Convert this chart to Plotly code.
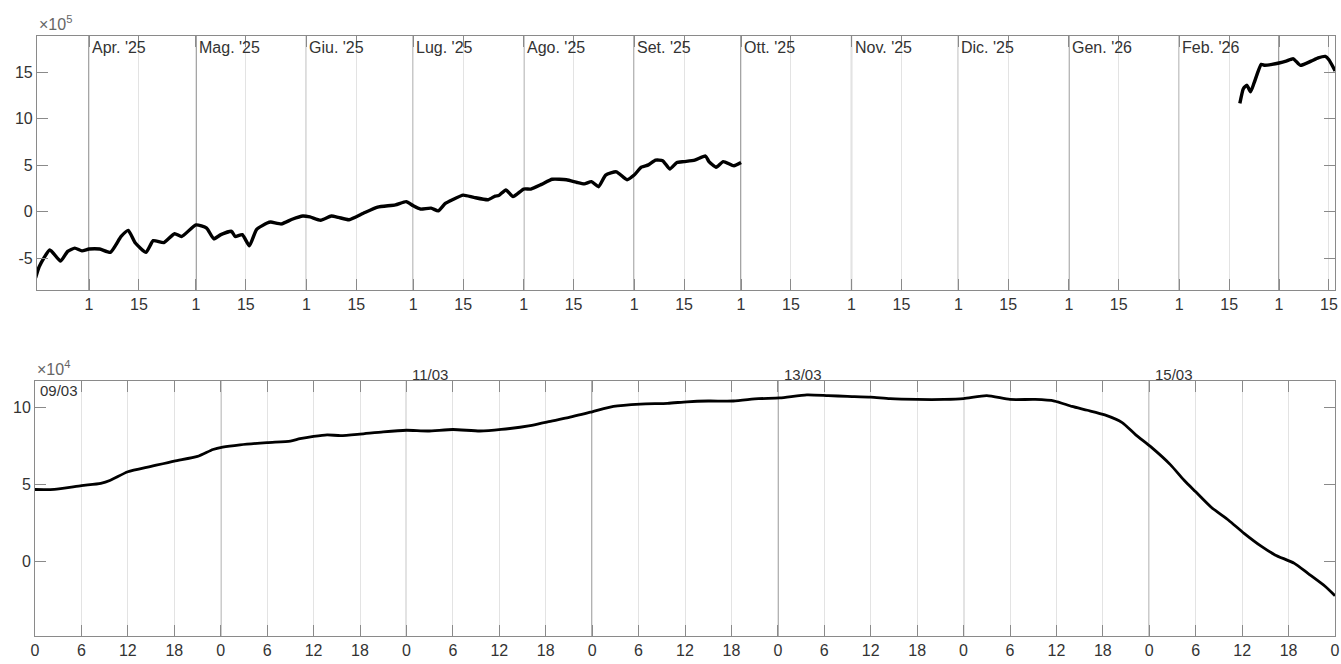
import plotly.graph_objects as go

# ---------------- data (values in units of the axis multiplier) ----------------
# Top panel: daily values, x10^5
top_dates_a = ["2025-03-17", "2025-03-18", "2025-03-21", "2025-03-24", "2025-03-26", "2025-03-28",
               "2025-03-30", "2025-04-01", "2025-04-04", "2025-04-07", "2025-04-10", "2025-04-12",
               "2025-04-14", "2025-04-17", "2025-04-19", "2025-04-22", "2025-04-25", "2025-04-27",
               "2025-05-01", "2025-05-04", "2025-05-06", "2025-05-08", "2025-05-11", "2025-05-12",
               "2025-05-14", "2025-05-16", "2025-05-18", "2025-05-21", "2025-05-22", "2025-05-25",
               "2025-05-28", "2025-05-31", "2025-06-02", "2025-06-05", "2025-06-08", "2025-06-10",
               "2025-06-13", "2025-06-17", "2025-06-21", "2025-06-26", "2025-06-29", "2025-07-01",
               "2025-07-03", "2025-07-06", "2025-07-08", "2025-07-10", "2025-07-12", "2025-07-15",
               "2025-07-18", "2025-07-22", "2025-07-24", "2025-07-25", "2025-07-27", "2025-07-29",
               "2025-08-01", "2025-08-03", "2025-08-06", "2025-08-09", "2025-08-13", "2025-08-16",
               "2025-08-18", "2025-08-20", "2025-08-22", "2025-08-24", "2025-08-27", "2025-08-30",
               "2025-09-01", "2025-09-03", "2025-09-05", "2025-09-07", "2025-09-09", "2025-09-11",
               "2025-09-13", "2025-09-15", "2025-09-18", "2025-09-21", "2025-09-22", "2025-09-24",
               "2025-09-26", "2025-09-29", "2025-10-01"]
top_values_a = [-7.1, -5.9, -4.1, -5.3, -4.25, -3.9,
                -4.2, -4.0, -4.0, -4.35, -2.65, -2.0,
                -3.35, -4.35, -3.1, -3.3, -2.35, -2.65,
                -1.4, -1.75, -2.9, -2.45, -2.1, -2.65,
                -2.45, -3.65, -1.9, -1.2, -1.1, -1.3,
                -0.8, -0.45, -0.55, -0.9, -0.45, -0.6,
                -0.85, -0.15, 0.5, 0.75, 1.1, 0.65,
                0.3, 0.4, 0.1, 0.9, 1.3, 1.8,
                1.55, 1.3, 1.7, 1.75, 2.35, 1.65,
                2.45, 2.45, 2.95, 3.5, 3.45, 3.15,
                3.0, 3.25, 2.7, 3.95, 4.3, 3.45,
                3.95, 4.8, 5.05, 5.55, 5.5, 4.6,
                5.3, 5.4, 5.55, 6.0, 5.4, 4.8,
                5.4, 4.95, 5.3]

top_dates_b = ["2026-02-18", "2026-02-19", "2026-02-20", "2026-02-21", "2026-02-22", "2026-02-24",
               "2026-02-25", "2026-02-27", "2026-03-01", "2026-03-03", "2026-03-05", "2026-03-07",
               "2026-03-10", "2026-03-12", "2026-03-14", "2026-03-15", "2026-03-16 18:00"]
top_values_b = [11.65, 13.25, 13.6, 12.9, 13.85, 15.85,
                15.75, 15.85, 16.0, 16.2, 16.45, 15.75,
                16.2, 16.55, 16.7, 16.35, 15.15]

# Bottom panel: intraday values, x10^4
bot_times = ["2026-03-09 00:00", "2026-03-09 02:30", "2026-03-09 06:00", "2026-03-09 08:30",
             "2026-03-09 09:45", "2026-03-09 12:00", "2026-03-09 15:00", "2026-03-09 18:00",
             "2026-03-09 21:00", "2026-03-09 23:00", "2026-03-10 00:15", "2026-03-10 02:30",
             "2026-03-10 06:00", "2026-03-10 09:00", "2026-03-10 10:15", "2026-03-10 12:00",
             "2026-03-10 13:45", "2026-03-10 15:30", "2026-03-10 18:00", "2026-03-10 21:00",
             "2026-03-11 00:00", "2026-03-11 02:45", "2026-03-11 06:00", "2026-03-11 09:30",
             "2026-03-11 12:15", "2026-03-11 16:00", "2026-03-11 18:15", "2026-03-11 20:45",
             "2026-03-12 00:00", "2026-03-12 02:45", "2026-03-12 06:15", "2026-03-12 09:45",
             "2026-03-12 12:15", "2026-03-12 15:00", "2026-03-12 18:15", "2026-03-12 21:30",
             "2026-03-13 00:15", "2026-03-13 03:45", "2026-03-13 06:30", "2026-03-13 09:00",
             "2026-03-13 12:00", "2026-03-13 14:30", "2026-03-13 18:00", "2026-03-13 21:30",
             "2026-03-14 00:00", "2026-03-14 03:00", "2026-03-14 06:00", "2026-03-14 09:15",
             "2026-03-14 11:45", "2026-03-14 14:00", "2026-03-14 16:00", "2026-03-14 18:15",
             "2026-03-14 20:30", "2026-03-14 22:15", "2026-03-15 00:15", "2026-03-15 02:45",
             "2026-03-15 04:30", "2026-03-15 06:00", "2026-03-15 08:00", "2026-03-15 10:15",
             "2026-03-15 12:15", "2026-03-15 14:30", "2026-03-15 16:15", "2026-03-15 18:45",
             "2026-03-15 20:30", "2026-03-15 22:45", "2026-03-16 00:00"]
bot_values = [4.65, 4.66, 4.9, 5.05,
              5.25, 5.8, 6.15, 6.5,
              6.8, 7.25, 7.4, 7.55,
              7.7, 7.8, 7.95, 8.1,
              8.2, 8.15, 8.25, 8.4,
              8.5, 8.45, 8.55, 8.45,
              8.55, 8.8, 9.05, 9.3,
              9.7, 10.05, 10.2, 10.25,
              10.35, 10.4, 10.4, 10.55,
              10.6, 10.8, 10.75, 10.7,
              10.65, 10.55, 10.5, 10.5,
              10.55, 10.75, 10.5, 10.5,
              10.4, 10.05, 9.8, 9.5,
              9.0, 8.2, 7.4, 6.25,
              5.25, 4.5, 3.5, 2.65,
              1.8, 0.95, 0.4, -0.15,
              -0.8, -1.65, -2.25]

# ---------------- ticks / labels ----------------
month_starts = ["2025-04-01", "2025-05-01", "2025-06-01", "2025-07-01", "2025-08-01", "2025-09-01",
                "2025-10-01", "2025-11-01", "2025-12-01", "2026-01-01", "2026-02-01", "2026-03-01"]
month_mids = ["2025-04-15", "2025-05-15", "2025-06-15", "2025-07-15", "2025-08-15", "2025-09-15",
              "2025-10-15", "2025-11-15", "2025-12-15", "2026-01-15", "2026-02-15", "2026-03-15"]
month_labels = ["Apr. '25", "Mag. '25", "Giu. '25", "Lug. '25", "Ago. '25", "Set. '25",
                "Ott. '25", "Nov. '25", "Dic. '25", "Gen. '26", "Feb. '26", "Mar. '26"]
top_yticks = [-5, 0, 5, 10, 15]
top_yticktext = ["-5", "0", "5", "10", "15"]

day_starts = ["2026-03-09", "2026-03-10", "2026-03-11", "2026-03-12", "2026-03-13",
              "2026-03-14", "2026-03-15", "2026-03-16"]
hour_ticks = [h for d in day_starts for h in
              [d + " 00:00", d + " 06:00", d + " 12:00", d + " 18:00"]][:-3]
hour_labels = (["0", "6", "12", "18"] * 8)[:len(hour_ticks)]
day_labels = ["09/03", "11/03", "13/03", "15/03"]
day_label_dates = ["2026-03-09", "2026-03-11", "2026-03-13", "2026-03-15"]
bot_yticks = [0, 5, 10]

# ---------------- figure ----------------
FONT = "Liberation Sans, Arial, sans-serif"
TXT = "#333333"
AXC = "#8a8a8a"
GRID_L = "#e3e3e3"
GRID_D = "#5a5a5a"
LINE = "#000000"

fig = go.Figure()
fig.add_trace(go.Scatter(x=top_dates_a, y=top_values_a, mode="lines",
                         line=dict(color=LINE, width=3.4, shape="spline", smoothing=0.5),
                         xaxis="x", yaxis="y", showlegend=False))
fig.add_trace(go.Scatter(x=top_dates_b, y=top_values_b, mode="lines",
                         line=dict(color=LINE, width=3.4, shape="spline", smoothing=0.5),
                         xaxis="x", yaxis="y", showlegend=False))
fig.add_trace(go.Scatter(x=bot_times, y=bot_values, mode="lines",
                         line=dict(color=LINE, width=2.8, shape="spline", smoothing=0.6),
                         xaxis="x2", yaxis="y2", showlegend=False))

top_ticks = sorted(month_starts + month_mids)
top_ticktext = ["1" if t.endswith("-01") else "15" for t in top_ticks]

axis_common = dict(showline=True, linecolor=AXC, linewidth=1, mirror="ticks",
                   ticks="inside", ticklen=11, tickcolor=AXC, tickwidth=1,
                   showgrid=True, gridcolor=GRID_L, gridwidth=1, zeroline=False,
                   automargin=False,
                   tickfont=dict(family=FONT, size=16, color=TXT))

fig.update_layout(
    width=1341, height=664,
    margin=dict(l=35, r=6, t=36, b=28),
    paper_bgcolor="white", plot_bgcolor="white",
    font=dict(family=FONT, color=TXT),
    xaxis=dict(domain=[0.0015, 1], anchor="y", type="date",
               range=["2025-03-17 09:00", "2026-03-16 17:00"],
               tickmode="array", tickvals=top_ticks, ticktext=top_ticktext,
               **axis_common),
    yaxis=dict(domain=[0.5767, 1], anchor="x", range=[-8.4, 18.9],
               tickmode="array", tickvals=top_yticks, ticktext=top_yticktext,
               **{**axis_common, "showgrid": False}),
    xaxis2=dict(domain=[0, 1], anchor="y2", type="date",
                range=["2026-03-09 00:00", "2026-03-16 00:00"],
                tickmode="array", tickvals=hour_ticks, ticktext=hour_labels,
                **axis_common),
    yaxis2=dict(domain=[0, 0.425], anchor="x2", range=[-4.87, 11.7],
                tickmode="array", tickvals=bot_yticks,
                **{**axis_common, "showgrid": False}),
)

shapes = []
for m in month_starts:
    shapes.append(dict(type="line", xref="x", yref="y domain", x0=m, x1=m, y0=0, y1=1,
                       line=dict(color=GRID_D, width=1.2), layer="below"))
for d in day_starts[1:-1]:
    shapes.append(dict(type="line", xref="x2", yref="y2 domain", x0=d, x1=d, y0=0, y1=1,
                       line=dict(color=GRID_D, width=1.2), layer="below"))
fig.update_layout(shapes=shapes)

ann = []
for m, lab in zip(month_starts, month_labels):
    if m >= "2026-03-01":
        continue
    ann.append(dict(x=m, y=1, xref="x", yref="y domain", text=lab, showarrow=False,
                    xanchor="left", yanchor="top", xshift=1, yshift=-1,
                    font=dict(family=FONT, size=16, color=TXT)))
ann.append(dict(x=0, y=1, xref="x domain", yref="y domain", text="×10<sup>5</sup>",
                showarrow=False, xanchor="left", yanchor="bottom", yshift=1,
                font=dict(family=FONT, size=16, color="#666666")))
ann.append(dict(x=0, y=1, xref="x2 domain", yref="y2 domain", text="×10<sup>4</sup>",
                showarrow=False, xanchor="left", yanchor="bottom", yshift=1,
                font=dict(family=FONT, size=16, color="#666666")))
for d, lab in zip(day_label_dates, day_labels):
    inside = d == day_label_dates[0]
    ann.append(dict(x=d, y=1, xref="x2", yref="y2 domain", text=lab, showarrow=False,
                    xanchor="left", yanchor="top" if inside else "bottom",
                    xshift=3 if inside else 4, yshift=1 if inside else -4,
                    font=dict(family=FONT, size=15, color=TXT)))
fig.update_layout(annotations=ann)

# remove the page's default 8px body margin so the figure fills the window exactly
fig.write_html("out.html",
               config={"displayModeBar": False},
               post_script="document.body.style.margin='0';document.body.style.overflow='hidden';")
